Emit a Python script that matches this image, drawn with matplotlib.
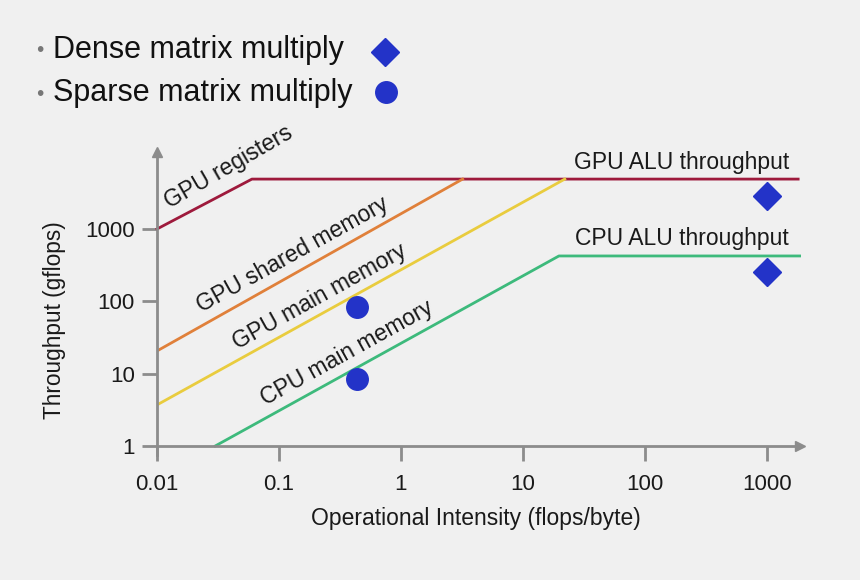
import numpy as np
import matplotlib.pyplot as plt

# roofline knee points (flops/byte, gflops)
gpu_reg_x = [0.01, 0.060, 1800]
gpu_reg_y = [1000, 4900, 4900]
gpu_shared_x = [0.01, 3.2]
gpu_shared_y = [20.6, 4900]
gpu_main_x = [0.01, 22]
gpu_main_y = [3.7, 4900]
cpu_main_x = [0.030, 19.7, 1850]
cpu_main_y = [1, 424, 424]

# measured kernels
dense_x = [1000, 1000]
dense_y = [2860, 255]
sparse_x = [0.435, 0.435]
sparse_y = [83.5, 8.4]

xticks = [0.01, 0.1, 1, 10, 100, 1000]
xtick_labels = ['0.01', '0.1', '1', '10', '100', '1000']
yticks = [1, 10, 100, 1000]
ytick_labels = ['1', '10', '100', '1000']

plt.rcParams['font.family'] = ['Liberation Sans', 'DejaVu Sans']
bg = '#f0f0f0'
axis_c = '#8c8c8c'
blue = '#2333c8'
txt = '#1a1a1a'

fig = plt.figure(figsize=(8.6, 5.8), dpi=100, facecolor=bg)
W, H = 860., 580.
ax = fig.add_axes([157/W, 1-446/H, 643/W, 294/H])
ax.set_facecolor(bg)
ax.set_xscale('log')
ax.set_yscale('log')
ax.set_xlim(0.01, 10**(643/122. - 2))
ax.set_ylim(1, 10**(294/72.33))

ax.plot(gpu_reg_x, gpu_reg_y, color='#9e1a3c', lw=2, clip_on=False)
ax.plot(gpu_shared_x, gpu_shared_y, color='#e0803a', lw=2)
ax.plot(gpu_main_x, gpu_main_y, color='#e9cc3e', lw=2)
ax.plot(cpu_main_x, cpu_main_y, color='#3dba7c', lw=2, clip_on=False)

ax.plot(dense_x, dense_y, 'D', color=blue, ms=14, ls='none', clip_on=False)
ax.plot(sparse_x, sparse_y, 'o', color=blue, ms=15.5, ls='none')

for s in ['top', 'right']:
    ax.spines[s].set_visible(False)
for s in ['left', 'bottom']:
    ax.spines[s].set_color(axis_c)
    ax.spines[s].set_linewidth(2)
ax.spines['left'].set_bounds(0.75, ax.get_ylim()[1])
ax.plot(1, 0, '>', color=axis_c, ms=7, transform=ax.transAxes, clip_on=False)
ax.plot(0, 1, '^', color=axis_c, ms=7, transform=ax.transAxes, clip_on=False)

ax.set_xticks(xticks)
ax.set_xticklabels(xtick_labels)
ax.set_yticks(yticks)
ax.set_yticklabels(ytick_labels)
ax.minorticks_off()
ax.tick_params(axis='both', colors=axis_c, length=11, width=2, labelsize=16,
               labelcolor=txt)
ax.tick_params(axis='y', pad=5)
ax.tick_params(axis='x', pad=9)

fig.text(476/W, 1-519/H, 'Operational Intensity (flops/byte)', fontsize=16.5,
         ha='center', va='center', color=txt)
fig.text(55/W, 1-320/H, 'Throughput (gflops)', fontsize=16.3, rotation=90,
         ha='center', va='center', color=txt)

# line labels
def lab(x, y, s, rot=0):
    fig.text(x/W, 1-y/H, s, fontsize=16.5, rotation=rot, ha='center',
             va='center', color=txt, rotation_mode='anchor')

lab(229, 167, 'GPU registers', 30)
lab(293, 255, 'GPU shared memory', 29)
lab(320, 297, 'GPU main memory', 29)
lab(347, 353, 'CPU main memory', 29)
lab(682, 162, 'GPU ALU throughput')
lab(682, 238, 'CPU ALU throughput')

# bullet key at the top
fig.text(40/W, 1-51/H, '•', fontsize=15, color='#777777', ha='center', va='center')
fig.text(40/W, 1-94/H, '•', fontsize=15, color='#777777', ha='center', va='center')
fig.text(53/W, 1-50/H, 'Dense matrix multiply', fontsize=22, va='center', color='#111111')
fig.text(53/W, 1-93/H, 'Sparse matrix multiply', fontsize=22, va='center', color='#111111')
fig.lines.append(plt.Line2D([385/W], [1-52/H], marker='D', color=blue, ms=14,
                            transform=fig.transFigure))
fig.lines.append(plt.Line2D([386/W], [1-92/H], marker='o', color=blue, ms=15.5,
                            transform=fig.transFigure))

fig.savefig('out.png', dpi=100, facecolor=bg)
